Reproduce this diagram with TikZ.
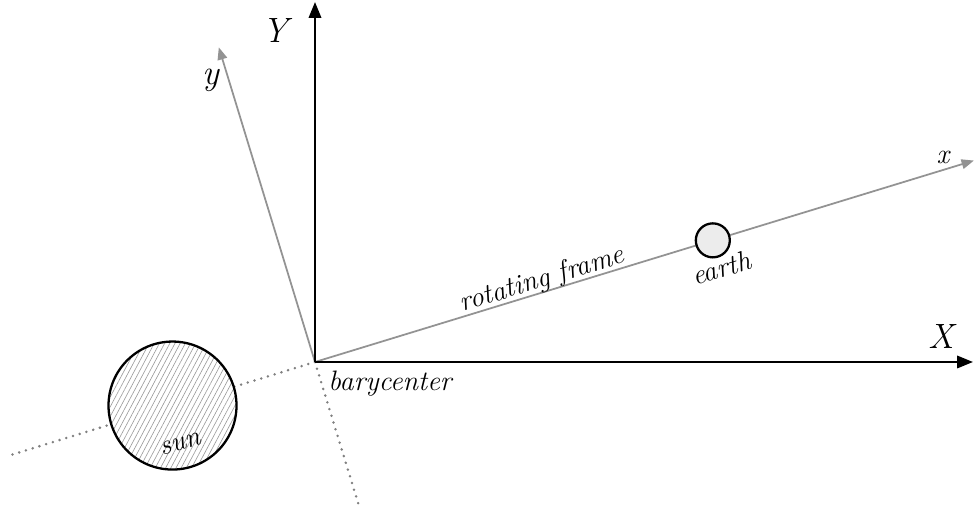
\documentclass[tikz,border=0pt]{standalone}
\usepackage{tikz}
\usetikzlibrary{arrows.meta,patterns.meta}

\begin{document}
\begin{tikzpicture}[font=\fontsize{16}{19}\selectfont\itshape,
  axis/.style={-{Triangle[length=9pt,width=7pt]},line width=1.3pt,black},
  rot/.style={-{Triangle[length=7pt,width=5.5pt]},line width=1pt,gray!85},
  dots/.style={dash pattern=on 0pt off 4pt,line cap=round,line width=1.6pt,gray},
  body/.style={circle,draw=black,line width=1.3pt,inner sep=0pt},
  lbl/.style={inner sep=1pt,text=black},
  big/.style={font=\fontsize{20}{24}\selectfont\itshape}]
\useasboundingbox (-6.30,-2.90) rectangle (13.18,7.24);

\coordinate (O) at (0,0);
\coordinate (Xend) at (13.16,0);
\coordinate (Yend) at (0,7.20);
\coordinate (xend) at (17:13.78);
\coordinate (yend) at (107:6.58);
\coordinate (xback) at (197:6.40);
\coordinate (yback) at (287:3.00);

% dotted continuation of the rotating axes
\draw[dots] (O) -- (xback);
\draw[dots] (O) -- (yback);

% rotating frame
\draw[rot] (O) -- node[lbl,sloped,above=-2pt,pos=0.35] {rotating frame} (xend);
\draw[rot] (O) -- (yend);

% inertial frame
\draw[axis] (O) -- (Xend);
\draw[axis] (O) -- (Yend);

\node[body,minimum size=2.56cm,preaction={fill=white},
      pattern={Lines[angle=62,distance=2.6pt,line width=0.35pt]},pattern color=gray!80]
      (sun) at (197:2.98) {};
\node[body,minimum size=0.68cm,fill=gray!15] (earth) at (17:8.32) {};

\node[lbl,big] (Ylbl) at (-0.80,6.62) {Y};
\node[lbl,big] (ylbl) at (-2.08,5.64) {y};
\node[lbl,big] (Xlbl) at (12.52,0.50) {X};
\node[lbl] (xlbl) at (12.56,4.10) {x};
\node[lbl] (bary) at (1.50,-0.44) {barycenter};
\node[lbl,rotate=17] (sunlbl) at (-2.68,-1.64) {sun};
\node[lbl,rotate=17] (earthlbl) at (8.12,1.88) {earth};
\end{tikzpicture}
\end{document}
